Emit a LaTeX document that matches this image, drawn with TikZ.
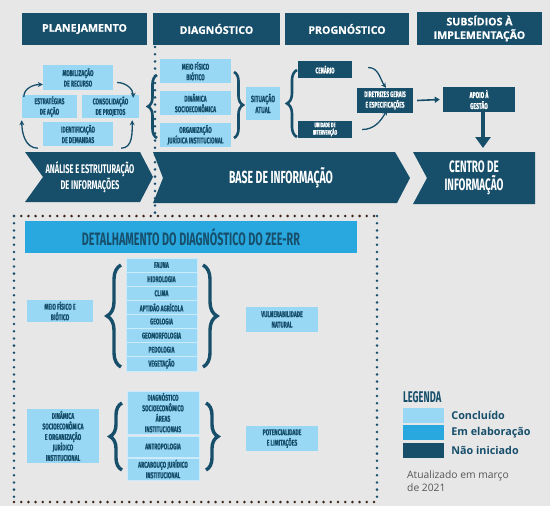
\documentclass[tikz,border=0pt]{standalone}
\usepackage{fontspec}
\setmainfont{Open Sans}
\newfontfamily\cabfont[FakeBold=0.6]{Open Sans}
\newfontfamily\cond[FakeStretch=0.6]{Fira Sans}
\newfontfamily\condp[FakeStretch=0.6,FakeBold=0.8]{Fira Sans}
\usetikzlibrary{decorations.pathreplacing,arrows.meta}
\definecolor{fundo}{HTML}{E7E7E7}
\definecolor{escuro}{HTML}{174F6B}
\definecolor{claro}{HTML}{98D8F4}
\definecolor{medio}{HTML}{29A8E0}
\definecolor{marrom}{HTML}{3A2418}
\definecolor{cinza}{HTML}{555555}
\tikzset{
  cab/.style={rectangle,fill=escuro,text=white,inner sep=0pt,align=center,
    font=\cabfont\bfseries\fontsize{10.6}{13.5}\selectfont},
  conc/.style={rectangle,fill=claro,text=escuro,inner sep=0pt,align=center,
    font=\condp\bfseries\fontsize{8.4}{10.5}\selectfont},
  nini/.style={rectangle,fill=escuro,text=white,inner sep=0pt,align=center,
    font=\condp\bfseries\fontsize{8.4}{10.5}\selectfont},
  seta/.style={-{Stealth[length=5pt,width=5pt]},line width=1.3pt,draw=escuro},
  chave/.style={decorate,decoration={brace,amplitude=#1},line width=2.6pt,draw=escuro},
  pontos/.style={line width=2.8pt,line cap=round,dash pattern=on 0pt off 7.2pt},
}
\begin{document}
\begin{tikzpicture}[x=1pt,y=-1pt]
  \useasboundingbox (0,0) rectangle (550,506);
  \fill[fundo] (0,0) rectangle (550,506);

  % cabecalhos
  \node[cab,minimum width=125pt,minimum height=32pt] (plan) at (84.5,29) {PLANEJAMENTO};
  \node[cab,minimum width=127pt,minimum height=32pt] (diag) at (216.5,29) {DIAGNÓSTICO};
  \node[cab,minimum width=124pt,minimum height=32pt] (prog) at (347,29) {PROGNÓSTICO};
  \node[cab,minimum width=125pt,minimum height=33pt] (subs) at (479.5,28.5) {SUBSÍDIOS À\\IMPLEMENTAÇÃO};

  % planejamento
  \node[conc,minimum width=70pt,minimum height=25pt] (mob) at (78,77.5) {MOBILIZAÇÃO\\DE RECURSO};
  \node[conc,minimum width=55pt,minimum height=23pt] (estr) at (49.5,106.5) {ESTRATÉGIAS\\DE AÇÃO};
  \node[conc,minimum width=57pt,minimum height=23pt] (cons) at (110.5,106.5) {CONSOLIDAÇÃO\\DE PROJETOS};
  \node[conc,minimum width=70pt,minimum height=24pt] (ident) at (78,134) {IDENTIFICAÇÃO\\DE DEMANDAS};
  \draw[seta] ([xshift=2pt,yshift=-2pt]estr.north west) to[out=90,in=180] ([yshift=-7pt]mob.west);
  \draw[seta] ([xshift=4pt,yshift=-5pt]mob.east) to[out=0,in=90] ([xshift=-6pt,yshift=-3pt]cons.north east);
  \draw[seta] ([xshift=8pt,yshift=-2pt]ident.south east) to[out=0,in=-90] ([xshift=-7pt,yshift=-2pt]cons.south east);
  \draw[seta] ([xshift=-5pt,yshift=-2pt]ident.south west) to[out=180,in=-90] ([yshift=-2pt]estr.south west);

  % diagnostico
  \node[conc,minimum width=71pt,minimum height=24pt] (meio) at (195.5,71) {MEIO FÍSICO\\BIÓTICO};
  \node[conc,minimum width=71pt,minimum height=24pt] (din) at (195.5,103) {DINÂMICA\\SOCIOECONÔMICA};
  \node[conc,minimum width=71pt,minimum height=24pt] (org) at (195.5,135) {ORGANIZAÇÃO\\JURÍDICA INSTITUCIONAL};
  \node[conc,minimum width=34pt,minimum height=33pt,font=\condp\bfseries\fontsize{9}{11}\selectfont] (sit) at (263,103.5) {SITUAÇÃO\\ATUAL};
  \draw[chave=9pt] (157,138) -- (157,75);
  \draw[chave=9pt] (234,72) -- (234,138);

  % prognostico
  \node[nini,minimum width=54pt,minimum height=17pt,font=\condp\bfseries\fontsize{8}{10}\selectfont] (cen) at (325,69.5) {CENÁRIO};
  \node[nini,minimum width=54pt,minimum height=17pt,font=\condp\bfseries\fontsize{6.5}{7.5}\selectfont] (uni) at (325,129.5) {UNIDADE DE\\INTERVENÇÃO};
  \node[nini,minimum width=56pt,minimum height=25pt,font=\condp\bfseries\fontsize{8}{10.5}\selectfont] (dir) at (385,100.5) {DIRETRIZES GERAIS\\E ESPECIFICAÇÕES};
  \draw[chave=10pt] (297,137) -- (297,70);
  \draw[seta] ([xshift=16pt,yshift=2pt]cen.east) to[out=0,in=125] ([xshift=1pt]dir.north);
  \draw[seta] ([xshift=10pt]uni.east) to[out=0,in=-120] ([xshift=2pt,yshift=3pt]dir.south);

  % subsidios
  \node[nini,minimum width=72pt,minimum height=25pt,font=\condp\bfseries\fontsize{8.5}{11}\selectfont] (apoio) at (479,99.5) {APOIO À\\GESTÃO};
  \draw[-{Triangle[width=6pt,length=5pt]},line width=1.6pt,draw=escuro] ([xshift=4pt]dir.east) -- ([xshift=-3pt]apoio.west);
  \coordinate (centrotopo) at (483,148);
  \draw[-{Triangle[width=15pt,length=11pt]},line width=4.2pt,draw=escuro] ([xshift=4pt,yshift=3pt]apoio.south) -- (centrotopo);

  % faixas
  \fill[escuro] (25,152) -- (140,152) -- (153,177) -- (140,202) -- (25,202) -- (43,177) -- cycle;
  \node[text=white,align=center,font=\cond\bfseries\fontsize{12.5}{14}\selectfont] (anal) at (90,177) {ANÁLISE E ESTRUTURAÇÃO\\DE INFORMAÇÕES};
  \fill[escuro] (153,152) -- (395,152) -- (410,178) -- (397,203) -- (153,203) -- (163,178) -- cycle;
  \node[text=white,font=\cond\bfseries\fontsize{17.5}{19}\selectfont] (base) at (281,178) {BASE DE INFORMAÇÃO};
  \fill[escuro] (413,152) -- (535,152) -- (535,204) -- (413,204) -- (427,178) -- cycle;
  \node[text=white,align=center,font=\cond\bfseries\fontsize{16.5}{18.5}\selectfont] (centro) at (474,178) {CENTRO DE\\INFORMAÇÃO};

  % linha pontilhada e quadro
  \draw[pontos,escuro] (155,47) -- (155,214);
  \draw[pontos,marrom] (14,216) -- (377,216);
  \draw[pontos,marrom] (14,502) -- (377,502);
  \draw[pontos,escuro] (14,216) -- (14,502);
  \draw[pontos,escuro] (377,216) -- (377,502);

  % detalhamento
  \node[rectangle,fill=medio,text=escuro,minimum width=332pt,minimum height=32pt,inner sep=0pt,
    font=\cond\bfseries\fontsize{18}{20}\selectfont] (det) at (191,237) {DETALHAMENTO DO DIAGNÓSTICO DO ZEE-RR};

  \node[conc,minimum width=66pt,minimum height=22pt] (mfb) at (60,311) {MEIO FÍSICO E\\BIÓTICO};
  \foreach \tema [count=\i] in {FAUNA,HIDROLOGIA,CLIMA,APTIDÃO AGRÍCOLA,GEOLOGIA,GEOMORFOLOGIA,PEDOLOGIA,VEGETAÇÃO}
    \node[conc,draw=white!50!claro,line width=0.6pt,minimum width=71pt,minimum height=14.1pt] (t\i) at (161.5,{251+14.1*\i}) {\tema};
  \draw[chave=14pt,line width=3.4pt] (121,367) -- (121,265);
  \draw[chave=14pt,line width=3.4pt] (203,265) -- (203,367);
  \node[conc,minimum width=72pt,minimum height=25pt] (vul) at (282,319.5) {VULNERABILIDADE\\NATURAL};

  \node[conc,minimum width=72pt,minimum height=54pt] (dsoc) at (63,436) {DINÂMICA\\SOCIOECONÔMICA\\E ORGANIZAÇÃO\\JURÍDICO\\INSTITUCIONAL};
  \node[conc,draw=white!50!claro,line width=0.6pt,minimum width=72pt,minimum height=43pt] (dsa) at (163,412.5) {DIAGNÓSTICO\\SOCIOECONÔMICO\\ÁREAS\\INSTITUCIONAIS};
  \node[conc,draw=white!50!claro,line width=0.6pt,minimum width=72pt,minimum height=21pt] (antro) at (163,446.5) {ANTROPOLOGIA};
  \node[conc,draw=white!50!claro,line width=0.6pt,minimum width=72pt,minimum height=22pt] (arc) at (163,469) {ARCABOUÇO JURÍDICO\\INSTITUCIONAL};
  \draw[chave=12pt,line width=3.4pt] (122,470) -- (122,403);
  \draw[chave=12pt,line width=3.4pt] (206,403) -- (206,470);
  \node[conc,minimum width=72pt,minimum height=25pt] (pot) at (282,438.5) {POTENCIALIDADE\\E LIMITAÇÕES};

  % legenda
  \node[anchor=west,inner sep=0pt,text=escuro,font=\cond\bfseries\fontsize{15.5}{17}\selectfont] (leg) at (403,397) {LEGENDA};
  \node[rectangle,fill=claro,minimum width=41pt,minimum height=15pt,inner sep=0pt] (lc) at (423.5,415.5) {};
  \node[rectangle,fill=medio,minimum width=41pt,minimum height=15pt,inner sep=0pt] (le) at (423.5,432.5) {};
  \node[rectangle,fill=escuro,minimum width=41pt,minimum height=15pt,inner sep=0pt] (ln) at (423.5,450) {};
  \node[anchor=west,inner sep=0pt,text=escuro,font=\bfseries\fontsize{10.8}{12}\selectfont] at ([xshift=7pt]lc.east) {Concluído};
  \node[anchor=west,inner sep=0pt,text=escuro,font=\bfseries\fontsize{10.8}{12}\selectfont] at ([xshift=7pt]le.east) {Em elaboração};
  \node[anchor=west,inner sep=0pt,text=escuro,font=\bfseries\fontsize{10.8}{12}\selectfont] at ([xshift=7pt]ln.east) {Não iniciado};
  \node[anchor=north west,inner sep=0pt,align=left,text=cinza,font=\fontsize{10.3}{13.5}\selectfont] (atu) at (407,470) {Atualizado em março\\de 2021};
\end{tikzpicture}
\end{document}
